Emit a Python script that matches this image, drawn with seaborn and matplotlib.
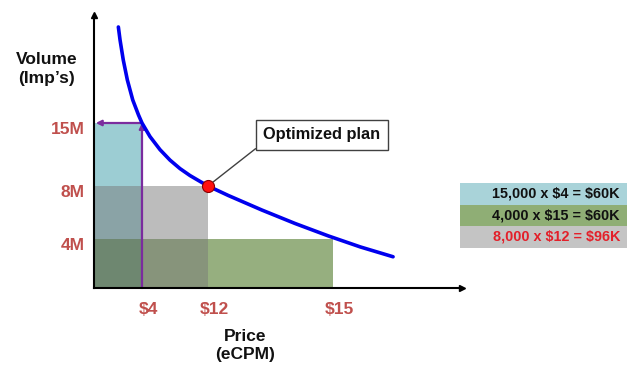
import numpy as np
import matplotlib
matplotlib.use("Agg")
import matplotlib.pyplot as plt
import matplotlib.transforms as mtransforms
from matplotlib.patches import Rectangle
import seaborn as sns

# ---- chart values ----
price_ticks = [4, 12, 15]
price_labels = [r"\$4", r"\$12", r"\$15"]
volume_ticks = [4, 8, 15]
volume_labels = ["4M", "8M", "15M"]

# the three plans: price x volume (drawn bottom to top)
plan_price = [4, 15, 12]
plan_volume = [15, 4, 8]
plan_colors = ["#9ccdd3", "#2f6100", "#787878"]
plan_alpha = [1.0, 0.5, 0.49]

opt_price = [12]
opt_volume = [8]

# demand curve
curve_price = [2.03, 2.17, 2.44, 2.78, 3.23, 3.71, 4.0, 4.97, 6.18, 7.39,
               8.61, 9.82, 11.03, 12.0, 12.49, 13.29, 14.09, 14.89, 15.68, 16.49]
curve_volume = [23.89, 22.69, 20.83, 18.98, 17.13, 15.74, 15.0, 13.49, 12.04,
                10.88, 9.93, 9.16, 8.51, 8.0, 7.28, 6.19, 5.17, 4.23, 3.35, 2.55]

legend_labels = [r"15,000 x \$4 = \$60K", r"4,000 x \$15 = \$60K", r"8,000 x \$12 = \$96K"]
legend_fill = ["#a9d3d9", "#8fae75", "#c4c4c4"]
legend_text_colors = ["#111111", "#111111", "#e3202a"]

# schematic (non-linear) axes: data value -> axis position
x_knots, x_pos = [0, 4, 12, 15, 18.2], [0, 48, 114, 239, 368]
y_knots, y_pos = [0, 4, 8, 15, 25], [0, 49, 102, 165, 273]


def x_fwd(v):
    return np.interp(v, x_knots, x_pos)


def x_inv(v):
    return np.interp(v, x_pos, x_knots)


def y_fwd(v):
    return np.interp(v, y_knots, y_pos)


def y_inv(v):
    return np.interp(v, y_pos, y_knots)


sns.set_style("white")
plt.rcParams["font.family"] = ["Liberation Sans", "DejaVu Sans"]

fig = plt.figure(figsize=(6.4, 3.76), dpi=100)
ax = fig.add_axes([94 / 640, 88 / 376, 368 / 640, 273 / 376])
ax.set_xscale("function", functions=(x_fwd, x_inv))
ax.set_yscale("function", functions=(y_fwd, y_inv))

# plan rectangles
for p, v, c, a in zip(plan_price, plan_volume, plan_colors, plan_alpha):
    ax.bar(0, v, width=p, align="edge", color=c, alpha=a, linewidth=0, zorder=1)

# purple read-off arrows for the $4 plan
arrow_kw = dict(arrowstyle="-|>", color="#7b2c9e", lw=1.6, mutation_scale=8,
                shrinkA=0, shrinkB=0)
ax.annotate("", xy=(4, 15), xytext=(4, 0), arrowprops=arrow_kw, zorder=2)
ax.annotate("", xy=(0.15, 15), xytext=(4, 15), arrowprops=arrow_kw, zorder=2)

sns.lineplot(x=curve_price, y=curve_volume, sort=False, color="#0000ee",
             linewidth=2.6, ax=ax, zorder=3)
sns.scatterplot(x=opt_price, y=opt_volume, s=75, color="#ff1010",
                edgecolor="#8b0000", linewidth=0.8, ax=ax, zorder=4)

ax.set_xlim(x_knots[0], x_knots[-1])
ax.set_ylim(y_knots[0], y_knots[-1])

# axes with arrow heads
for side in ["top", "right"]:
    ax.spines[side].set_visible(False)
for side in ["left", "bottom"]:
    ax.spines[side].set_color("black")
    ax.spines[side].set_linewidth(1.5)
ax.plot(1, 0, marker=">", color="black", ms=5, transform=ax.transAxes, clip_on=False)
ax.plot(0, 1, marker="^", color="black", ms=5, transform=ax.transAxes, clip_on=False)

ax.set_xticks(price_ticks, price_labels)
ax.set_yticks(volume_ticks, volume_labels)
ax.minorticks_off()
ax.tick_params(length=0, labelsize=12.5, labelcolor="#c0504d")
ax.tick_params(axis="x", pad=10)
ax.tick_params(axis="y", pad=7)
dx = mtransforms.ScaledTranslation(6 / 100, 0, fig.dpi_scale_trans)
dy = mtransforms.ScaledTranslation(0, -5 / 100, fig.dpi_scale_trans)
for lbl in ax.get_xticklabels():
    lbl.set_fontweight("bold")
    lbl.set_transform(lbl.get_transform() + dx)
for lbl in ax.get_yticklabels():
    lbl.set_fontweight("bold")
    lbl.set_transform(lbl.get_transform() + dy)

ax.set_xlabel("Price\n(eCPM)", fontsize=12.5, fontweight="bold", linespacing=1.25,
              color="#111111")
ax.xaxis.set_label_coords(0.41, -0.15)
ax.set_ylabel("Volume\n(Imp\u2019s)", fontsize=12.5, fontweight="bold", color="#111111",
              rotation=0, ha="center", va="center", linespacing=1.35)
ax.yaxis.set_label_coords(-0.128, 0.802)

# callout
ax.annotate("Optimized plan", xy=(opt_price[0], opt_volume[0]), xytext=(322, 241),
            textcoords="figure pixels", ha="center", va="center", color="#111111",
            fontsize=11.8, fontweight="bold", zorder=5,
            bbox=dict(boxstyle="square,pad=0.45", fc="white", ec="#404040", lw=1),
            arrowprops=dict(arrowstyle="-", color="#404040", lw=1, relpos=(0, 0),
                            shrinkA=0, shrinkB=5))

# side table with the revenue of each plan
row_h = 21.5
for i, (lab, fc, tc) in enumerate(zip(legend_labels, legend_fill, legend_text_colors)):
    top = 183 + i * row_h
    fig.add_artist(Rectangle((460 / 640, (376 - top - row_h) / 376), 167 / 640,
                             row_h / 376, transform=fig.transFigure, fc=fc, ec="none"))
    fig.text(620 / 640, (376 - top - row_h / 2) / 376, lab, ha="right", va="center",
             fontsize=10.4, fontweight="bold", color=tc)

fig.savefig("out.png", dpi=100)
